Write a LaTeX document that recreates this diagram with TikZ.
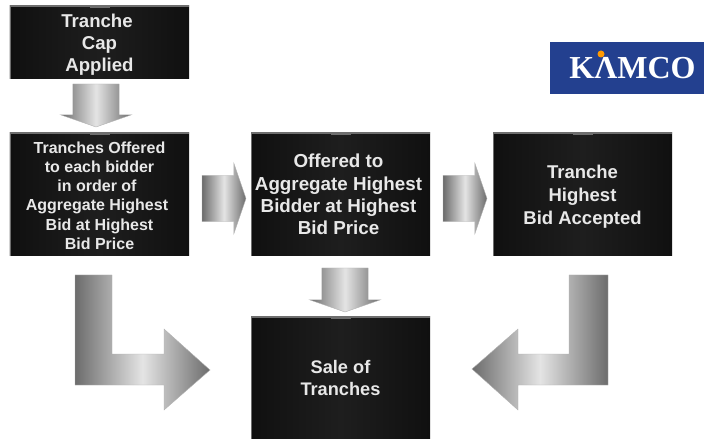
\documentclass[tikz,border=0pt]{standalone}
\usepackage{fontspec}
\setmainfont{Liberation Sans}
\newfontfamily\logofont{Liberation Serif}
\usetikzlibrary{shapes.arrows}
\definecolor{boxdark}{HTML}{101010}
\definecolor{boxmid}{HTML}{1E1E1E}
\definecolor{boxedge}{HTML}{6E6E6E}
\definecolor{boxtext}{HTML}{E8E8E8}
\definecolor{arrowdark}{HTML}{6C6C6C}
\definecolor{arrowlight}{HTML}{E4E4E4}
\definecolor{logoblue}{HTML}{23408F}
\tikzset{
    stepbox/.style={left color=boxdark, right color=boxdark, middle color=boxmid, text=boxtext, align=center, inner sep=0pt, minimum width=179bp,
        path picture={
            \draw[boxedge, line width=2.4bp] (path picture bounding box.south west) -- (path picture bounding box.north west) -- (path picture bounding box.north east);
            \draw[boxedge, line width=3.4bp] ([xshift=-10bp]path picture bounding box.north) -- ([xshift=10bp]path picture bounding box.north);
        }},
    blockarrow/.style={left color=arrowdark, right color=arrowdark, middle color=arrowlight, draw=black!30, line width=0.4bp},
    straightarrow/.style={blockarrow, single arrow, inner xsep=0pt, inner ysep=13.2bp, outer sep=0pt, single arrow head indent=0pt, minimum width=71bp, single arrow tip angle=142},
    downarrow/.style={straightarrow, shape border rotate=270, inner xsep=13.2bp, inner ysep=0pt},
}
\begin{document}
\begin{tikzpicture}[x=1bp, y=-1bp]
    \useasboundingbox (0, 0) rectangle (704, 439);

    \node[stepbox, minimum height=73bp, font=\bfseries\fontsize{18.6bp}{21.8bp}\selectfont] at (99.5, 42.5) (cap) {\rule{0pt}{17.4bp}\hspace*{-5bp}Tranche\\Cap\\Applied};
    \node[stepbox, minimum height=123bp, font=\bfseries\fontsize{16bp}{19.3bp}\selectfont] at (99.5, 194.5) (offered) {\rule{0pt}{13.7bp}Tranches Offered\\to each bidder\\\hspace*{-5bp}in order of\\\hspace*{-5bp}Aggregate Highest\\Bid at Highest\\Bid Price};
    \node[stepbox, minimum height=123bp, font=\bfseries\fontsize{18.8bp}{22.4bp}\selectfont] at (340.5, 194.5) (aggregate) {\hspace*{-4bp}Offered to\\\hspace*{-4bp}Aggregate Highest\\\hspace*{-4bp}Bidder at Highest\\\hspace*{-4bp}Bid Price};
    \node[stepbox, minimum height=123bp, font=\bfseries\fontsize{18.5bp}{23bp}\selectfont] at (582.5, 194.5) (accepted) {\rule{0pt}{17.5bp}Tranche\\Highest\\Bid Accepted};
    \node[stepbox, minimum height=122bp, font=\bfseries\fontsize{18.2bp}{22bp}\selectfont] at (340.5, 378) (sale) {Sale of\\Tranches};

    % straight arrows between the boxes
    \node[downarrow, minimum height=43bp] at (96, 101.5) (capdown) {};
    \node[straightarrow, minimum height=44bp] at (220, 198.5) (offeredright) {};
    \node[straightarrow, minimum height=44bp] at (461, 198.5) (aggregateright) {};
    \node[downarrow, minimum height=44bp] at (345, 286) (aggregatedown) {};

    % corner arrows into the sale box
    \coordinate (leftcorner) at (75, 275);
    \coordinate (rightcorner) at (608, 275);
    \path[blockarrow] (leftcorner) -- ++(37, 0) -- ++(0, 79) -- ++(52, 0) -- ++(0, -25) -- ++(46, 41) -- ++(-46, 40) -- ++(0, -25) -- ++(-89, 0) -- cycle;
    \path[blockarrow] (rightcorner) -- ++(-39, 0) -- ++(0, 79) -- ++(-51, 0) -- ++(0, -25) -- ++(-46, 40) -- ++(46, 41) -- ++(0, -25) -- ++(90, 0) -- cycle;

    % logo
    \node[fill=logoblue, minimum width=154bp, minimum height=52bp, inner sep=0pt] at (627, 68) (logo) {};
    \node[text=white, inner sep=0pt, font=\logofont\bfseries\fontsize{32bp}{32bp}\selectfont] at (632.5, 68) (logotext) {KΛMCO};
    \node[circle, fill=orange!80!yellow, minimum size=7bp, inner sep=0pt] at (601, 54) (logodot) {};
\end{tikzpicture}
\end{document}
